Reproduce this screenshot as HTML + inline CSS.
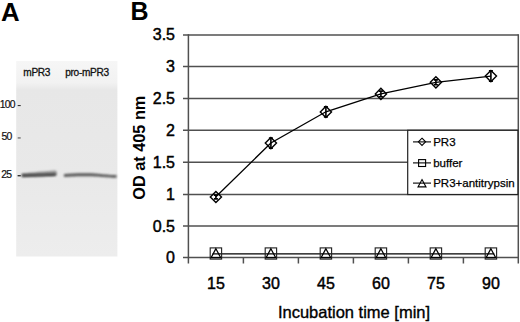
<!DOCTYPE html>
<html><head><meta charset="utf-8">
<style>
html,body{margin:0;padding:0;background:#fff;width:520px;height:322px;overflow:hidden}
svg{display:block;font-family:"Liberation Sans",sans-serif}
</style></head>
<body>
<svg width="520" height="322" viewBox="0 0 520 322">
<defs>
<filter id="b1" x="-20%" y="-200%" width="140%" height="500%"><feGaussianBlur stdDeviation="0.9 0.8"/></filter>
<filter id="b2" x="-20%" y="-200%" width="140%" height="500%"><feGaussianBlur stdDeviation="1.2 1.2"/></filter>
<linearGradient id="gel" x1="0" y1="0" x2="0" y2="1">
<stop offset="0" stop-color="#f6f6f6"/>
<stop offset="0.11" stop-color="#f2f2f2"/>
<stop offset="0.15" stop-color="#e7e7e7"/>
<stop offset="0.6" stop-color="#e9e9e9"/>
<stop offset="1" stop-color="#ededed"/>
</linearGradient>
</defs>

<!-- Panel A -->
<text x="1.1" y="20.7" font-size="25.8" font-weight="bold">A</text>
<rect x="16.2" y="61" width="101.2" height="195.5" fill="url(#gel)"/>
<text x="23.3" y="76.1" font-size="10.1" letter-spacing="-0.3" fill="#111" stroke="#111" stroke-width="0.3">mPR3</text>
<text x="65.2" y="76.1" font-size="10.1" letter-spacing="-0.3" fill="#111" stroke="#111" stroke-width="0.3">pro-mPR3</text>
<text x="-0.2" y="107.6" font-size="10.4" letter-spacing="-0.75" fill="#111" stroke="#111" stroke-width="0.2">100</text>
<text x="1.5" y="140.4" font-size="10.4" letter-spacing="-0.75" fill="#111" stroke="#111" stroke-width="0.2">50</text>
<text x="1.2" y="178.4" font-size="10.4" letter-spacing="-0.75" fill="#111" stroke="#111" stroke-width="0.2">25</text>
<rect x="17.7" y="105" width="3" height="1.1" fill="#333"/>
<rect x="17.7" y="137.4" width="3" height="1.1" fill="#555"/>
<rect x="17.6" y="175" width="3.2" height="1.4" fill="#333"/>
<!-- bands -->
<path d="M22.5,173.2 C32,172.4 46,171.3 55,170.5 C57.5,170.5 57.5,175.8 55,176 C45,176.4 32,177 22.5,177.2 C21,176.5 21,173.8 22.5,173.2 Z" fill="#949494" filter="url(#b2)"/>
<path d="M22.5,174.2 C32,174 46,173.6 55,173.2 C56.5,173.3 56.5,175.6 55,175.7 C45,176.1 32,176.6 22.5,176.7 C21.5,176.2 21.5,174.6 22.5,174.2 Z" fill="#404040" filter="url(#b1)"/>
<path d="M64.5,174 C72,173.2 88,172.9 98,173.7 C104,174.3 108,174.9 116.5,175.1 L116.5,177.8 C108,177.8 104,177.2 98,176.6 C88,176 72,176.4 64.5,177 C63.5,176.4 63.5,174.6 64.5,174 Z" fill="#575757" filter="url(#b1)"/>

<!-- Panel B -->
<text x="130.6" y="20" font-size="25" font-weight="bold">B</text>

<!-- gridlines -->
<g stroke="#505050" stroke-width="1.5" fill="none">
<line x1="183" y1="34.9" x2="518.3" y2="34.9"/>
<line x1="183" y1="66.5" x2="518.3" y2="66.5"/>
<line x1="183" y1="98.4" x2="518.3" y2="98.4"/>
<line x1="183" y1="130.3" x2="518.3" y2="130.3"/>
<line x1="183" y1="162.3" x2="518.3" y2="162.3"/>
<line x1="183" y1="194.5" x2="518.3" y2="194.5"/>
<line x1="183" y1="226" x2="518.3" y2="226"/>
<line x1="183" y1="257.4" x2="518.3" y2="257.4"/>
<!-- axes -->
<line x1="188.4" y1="34.2" x2="188.4" y2="263.5"/>
<line x1="518.3" y1="34.2" x2="518.3" y2="263.5"/>
<line x1="243.4" y1="257.4" x2="243.4" y2="263.5"/>
<line x1="298.4" y1="257.4" x2="298.4" y2="263.5"/>
<line x1="353.4" y1="257.4" x2="353.4" y2="263.5"/>
<line x1="408.4" y1="257.4" x2="408.4" y2="263.5"/>
<line x1="463.4" y1="257.4" x2="463.4" y2="263.5"/>
</g>

<!-- y tick labels -->
<g font-size="16" text-anchor="end" fill="#000" stroke="#000" stroke-width="0.45">
<text x="175" y="40.4">3.5</text>
<text x="175" y="72">3</text>
<text x="175" y="103.9">2.5</text>
<text x="175" y="135.8">2</text>
<text x="175" y="167.8">1.5</text>
<text x="175" y="200">1</text>
<text x="175" y="231.5">0.5</text>
<text x="175" y="262.9">0</text>
</g>
<!-- x tick labels -->
<g font-size="16" text-anchor="middle" fill="#000" stroke="#000" stroke-width="0.45">
<text x="215.9" y="288.7">15</text>
<text x="270.9" y="288.7">30</text>
<text x="325.9" y="288.7">45</text>
<text x="380.9" y="288.7">60</text>
<text x="435.9" y="288.7">75</text>
<text x="490.9" y="288.7">90</text>
</g>
<text x="354" y="317.8" font-size="16.5" text-anchor="middle" stroke="#000" stroke-width="0.35">Incubation time [min]</text>
<text transform="translate(144.6,147.7) rotate(-90)" font-size="16.3" font-weight="bold" text-anchor="middle">OD at 405 nm</text>

<!-- series lines -->
<g stroke="#000" stroke-width="1.3" fill="none">
<polyline points="215.9,196.8 270.9,143 325.9,111.8 380.9,93.8 435.9,82.3 490.9,76.2"/>
<polyline points="212.5,253.8 494.3,253.8"/>
</g>

<!-- PR3 markers -->
<g stroke="#000" stroke-width="1.4" fill="none">
<path d="M215.9,191.4 l5.6,5.6 l-5.6,5.6 l-5.6,-5.6 Z"/>
<path d="M270.9,137.5 l5.6,5.6 l-5.6,5.6 l-5.6,-5.6 Z"/>
<path d="M325.9,106.3 l5.6,5.6 l-5.6,5.6 l-5.6,-5.6 Z"/>
<path d="M380.9,88.3 l5.6,5.6 l-5.6,5.6 l-5.6,-5.6 Z"/>
<path d="M435.9,76.7 l5.6,5.6 l-5.6,5.6 l-5.6,-5.6 Z"/>
<path d="M490.9,70.5 l5.6,5.6 l-5.6,5.6 l-5.6,-5.6 Z"/>
</g>
<g stroke="#000" stroke-width="1.6" fill="none">
<path d="M215.9,195.1 v3.8 M213.9,195.1 h4 M213.9,198.9 h4"/>
<path d="M270.9,138.1 v10.0 M268.9,138.1 h4 M268.9,148.1 h4"/>
<path d="M325.9,106.9 v10.0 M323.9,106.9 h4 M323.9,116.9 h4"/>
<path d="M380.9,91.1 v5.6 M378.9,91.1 h4 M378.9,96.7 h4"/>
<path d="M435.9,79.9 v4.8 M433.9,79.9 h4 M433.9,84.7 h4"/>
<path d="M490.9,70.9 v10.4 M488.9,70.9 h4 M488.9,81.3 h4"/>
</g>
<!-- buffer & antitrypsin markers -->
<g stroke="#262626" stroke-width="1.15" fill="none">
<rect x="210.2" y="247.9" width="11.4" height="11.2"/>
<rect x="265.2" y="247.9" width="11.4" height="11.2"/>
<rect x="320.2" y="247.9" width="11.4" height="11.2"/>
<rect x="375.2" y="247.9" width="11.4" height="11.2"/>
<rect x="430.2" y="247.9" width="11.4" height="11.2"/>
<rect x="485.2" y="247.9" width="11.4" height="11.2"/>
</g>
<g stroke="#000" stroke-width="1.25" fill="none">
<path d="M215.9,248.7 l4.7,8.8 h-9.4 Z"/>
<path d="M270.9,248.7 l4.7,8.8 h-9.4 Z"/>
<path d="M325.9,248.7 l4.7,8.8 h-9.4 Z"/>
<path d="M380.9,248.7 l4.7,8.8 h-9.4 Z"/>
<path d="M435.9,248.7 l4.7,8.8 h-9.4 Z"/>
<path d="M490.9,248.7 l4.7,8.8 h-9.4 Z"/>
</g>
<!-- legend -->
<rect x="407.7" y="130.3" width="110.2" height="64.2" fill="#fff" stroke="#222" stroke-width="1.2"/>
<g stroke="#000" stroke-width="1.1" fill="none">
<line x1="413" y1="141.9" x2="431" y2="141.9"/>
<path d="M422,138.2 l3.6,3.6 l-3.6,3.6 l-3.6,-3.6 Z"/>
<line x1="413" y1="162.9" x2="431" y2="162.9"/>
<rect x="418.6" y="159.6" width="7" height="6.9"/>
<line x1="413" y1="183.1" x2="431" y2="183.1"/>
<path d="M422,179.6 l4,7.3 h-8 Z"/>
</g>
<g font-size="11.5" fill="#000" stroke="#000" stroke-width="0.25">
<text x="433.2" y="145.9">PR3</text>
<text x="433.2" y="166.5">buffer</text>
<text x="433.2" y="187.2">PR3+antitrypsin</text>
</g>
</svg>
</body></html>
